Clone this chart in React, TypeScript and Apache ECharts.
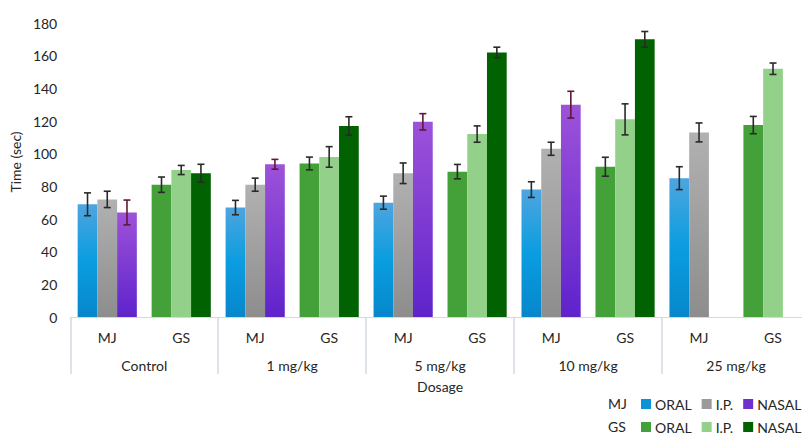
import React, { useEffect, useRef } from 'react';
import * as echarts from 'echarts';

const dosages = ['Control', '1 mg/kg', '5 mg/kg', '10 mg/kg', '25 mg/kg'];
const drugs = ['MJ', 'GS'];

const mjOral = [69, 67, 70, 78, 85];
const mjOralErr = [7, 4.4, 4, 4.8, 7];
const mjIP = [72, 81, 88, 103, 113];
const mjIPErr = [5, 4, 6.3, 4, 5.8];
const mjNasal: (number | null)[] = [64, 93.5, 119.5, 130, null];
const mjNasalErr: (number | null)[] = [7.6, 3, 5, 8.2, null];

const gsOral = [81, 94, 89, 92, 117.5];
const gsOralErr = [4.7, 3.9, 4.4, 5.8, 5.3];
const gsIP = [90, 98, 112, 121, 152];
const gsIPErr = [2.8, 6.3, 5, 9.5, 3.5];
const gsNasal: (number | null)[] = [88, 117, 162, 170, null];
const gsNasalErr: (number | null)[] = [5.5, 5.6, 3.2, 4.8, null];

const FONT = 'Lato, "Noto Sans", sans-serif';
const AXIS_COLOR = '#d3d9e2';
const TEXT = '#262626';

const categories = dosages.flatMap(() => drugs);

function spread(vals: (number | null)[], drugIdx: number) {
  const out: (number | null)[] = [];
  vals.forEach((v) => {
    if (drugIdx === 0) out.push(v, null);
    else out.push(null, v);
  });
  return out;
}

type Item = [number, number, number, number, number];
function errItems(vals: (number | null)[], errs: (number | null)[], drugIdx: number, slot: number, colorIdx: number): Item[] {
  const out: Item[] = [];
  vals.forEach((v, i) => {
    const e = errs[i];
    if (v == null || e == null) return;
    out.push([i * 2 + drugIdx, v - e, v + e, slot, colorIdx]);
  });
  return out;
}

export default function App() {
  const ref = useRef<HTMLDivElement>(null);
  useEffect(() => {
    document.body.style.margin = '0';
    document.body.style.overflow = 'hidden';
    document.documentElement.style.overflow = 'hidden';
    if (!ref.current) return;
    const chart = echarts.init(ref.current, undefined, { renderer: 'svg' });

    const grad = (stops: [number, string][]) =>
      new echarts.graphic.LinearGradient(0, 0, 0, 1, stops.map(([offset, color]) => ({ offset, color })));
    const blue = grad([[0, '#4ea5df'], [0.5, '#0a9de0'], [1, '#0787cb']]);
    const gray = grad([[0, '#b1b1b1'], [1, '#8d8d8d']]);
    const purple = grad([[0, '#9d52d9'], [1, '#5f23cc']]);

    const errColors = ['#2a2a2a', '#5e1838'];
    const errData: Item[] = [
      ...errItems(mjOral, mjOralErr, 0, 0, 0),
      ...errItems(mjIP, mjIPErr, 0, 1, 0),
      ...errItems(mjNasal, mjNasalErr, 0, 2, 1),
      ...errItems(gsOral, gsOralErr, 1, 0, 0),
      ...errItems(gsIP, gsIPErr, 1, 1, 0),
      ...errItems(gsNasal, gsNasalErr, 1, 2, 0),
    ];

    const bar = (name: string, data: (number | null)[], stack: string, color: any) => ({
      name,
      type: 'bar',
      xAxisIndex: 0,
      stack,
      data,
      barGap: '0%',
      barCategoryGap: '20%',
      itemStyle: { color },
    });

    const legendBase = {
      left: 641,
      orient: 'horizontal',
      icon: 'rect',
      itemWidth: 10,
      itemHeight: 10,
      itemGap: 10,
      padding: 0,
      selectedMode: false,
      formatter: (n: string) => n.replace(/^(MJ|GS) /, ''),
      textStyle: { fontFamily: FONT, fontSize: 14, color: TEXT, padding: [0, 0, 0, -1] },
    };

    chart.setOption({
      animation: false,
      textStyle: { fontFamily: FONT },
      grid: { left: 70, top: 23, right: 0, bottom: 118, containLabel: false },
      legend: [
        {
          ...legendBase,
          top: 397,
          data: [
            { name: 'MJ ORAL', itemStyle: { color: '#0b92d8' } },
            { name: 'MJ I.P.', itemStyle: { color: '#9a9a9a' } },
            { name: 'MJ NASAL', itemStyle: { color: '#6e2fcf' } },
          ],
        },
        {
          ...legendBase,
          top: 420,
          data: [
            { name: 'GS ORAL', itemStyle: { color: '#44a038' } },
            { name: 'GS I.P.', itemStyle: { color: '#93d18a' } },
            { name: 'GS NASAL', itemStyle: { color: '#006200' } },
          ],
        },
      ],
      graphic: [
        { type: 'text', left: 608, top: 396, style: { text: 'MJ', fontFamily: FONT, fontSize: 14, fill: TEXT } },
        { type: 'text', left: 608, top: 419, style: { text: 'GS', fontFamily: FONT, fontSize: 14, fill: TEXT } },
      ],
      xAxis: [
        {
          type: 'category',
          data: categories,
          position: 'bottom',
          axisLine: { show: true, lineStyle: { color: AXIS_COLOR, width: 1 } },
          axisTick: { show: false },
          axisLabel: { interval: 0, margin: 13, fontSize: 14, color: TEXT, fontFamily: FONT },
        },
        {
          type: 'category',
          data: dosages,
          position: 'bottom',
          axisLine: { show: true, lineStyle: { color: AXIS_COLOR, width: 1 } },
          axisTick: { show: true, interval: 0, length: 57, lineStyle: { color: AXIS_COLOR, width: 1.5 } },
          axisLabel: { interval: 0, margin: 41, fontSize: 14, color: TEXT, fontFamily: FONT },
          name: 'Dosage',
          nameLocation: 'middle',
          nameGap: 62,
          nameTextStyle: { fontSize: 14, color: TEXT, fontFamily: FONT },
        },
      ],
      yAxis: {
        type: 'value',
        min: 0,
        max: 180,
        interval: 20,
        axisLine: { show: false },
        axisTick: { show: false },
        splitLine: { show: false },
        axisLabel: { fontSize: 14, color: TEXT, margin: 13, fontFamily: FONT },
        name: 'Time (sec)',
        nameLocation: 'middle',
        nameGap: 45,
        nameTextStyle: { fontSize: 14, color: TEXT, fontFamily: FONT, padding: [0, 0, 0, 16] },
      },
      series: [
        bar('MJ ORAL', spread(mjOral, 0), 'oral', blue),
        bar('MJ I.P.', spread(mjIP, 0), 'ip', gray),
        bar('MJ NASAL', spread(mjNasal, 0), 'nasal', purple),
        bar('GS ORAL', spread(gsOral, 1), 'oral', '#44a038'),
        bar('GS I.P.', spread(gsIP, 1), 'ip', '#93d18a'),
        bar('GS NASAL', spread(gsNasal, 1), 'nasal', '#006200'),
        {
          type: 'custom',
          name: 'err',
          xAxisIndex: 0,
          z: 10,
          encode: { x: 0, y: [1, 2] },
          data: errData,
          renderItem: (params: any, api: any) => {
            const idx = api.value(0);
            const lo = api.value(1);
            const hi = api.value(2);
            const slot = api.value(3);
            const color = errColors[api.value(4)];
            const band = api.size([1, 0])[0];
            const bw = (band * 0.8) / 3;
            const pLo = api.coord([idx, lo]);
            const pHi = api.coord([idx, hi]);
            const x = pLo[0] + (slot - 1) * bw;
            const cap = 3.5;
            const style = { stroke: color, lineWidth: 1.6 };
            return {
              type: 'group',
              children: [
                { type: 'line', shape: { x1: x, y1: pHi[1], x2: x, y2: pLo[1] }, style },
                { type: 'line', shape: { x1: x - cap, y1: pHi[1], x2: x + cap, y2: pHi[1] }, style },
                { type: 'line', shape: { x1: x - cap, y1: pLo[1], x2: x + cap, y2: pLo[1] }, style },
              ],
            };
          },
        },
      ],
    });
    return () => chart.dispose();
  }, []);
  return <div ref={ref} style={{ width: 810, height: 435 }} />;
}
